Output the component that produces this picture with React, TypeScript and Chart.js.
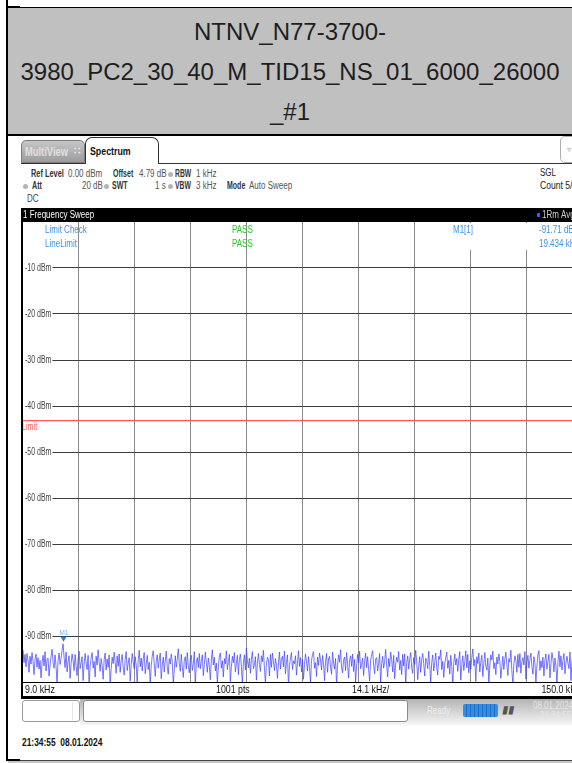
import React, { useEffect, useRef } from "react";
import { Chart, registerables } from "chart.js";

Chart.register(...registerables);

// ---------- data ----------
const TITLE_LINES = ["NTNV_N77-3700-", "3980_PC2_30_40_M_TID15_NS_01_6000_26000", "_#1"];
const START_KHZ = 9.0;
const STOP_KHZ = 150.0;
const SPAN_PER_DIV = "14.1 kHz/";
const SWEEP_POINTS = "1001 pts";
const X_TICKS = [9, 23.1, 37.2, 51.3, 65.4, 79.5, 93.6, 107.7, 121.8, 135.9, 150];
const Y_TICKS = [-10, -20, -30, -40, -50, -60, -70, -80, -90];
const Y_TICK_LABELS = ["-10 dBm", "-20 dBm", "-30 dBm", "-40 dBm", "-50 dBm", "-60 dBm", "-70 dBm", "-80 dBm", "-90 dBm"];
const LIMIT_DBM = -43.2;
const MARKER_KHZ = 19.434;
const MARKER_DBM = -91.71;
const TRACE_DBM = [
  -94.6, -93.1, -95.8, -94.0, -96.7, -93.8, -95.2, -97.9, -94.4, -96.1, -93.6, -95.5, -98.4, -95.0, -93.9, -96.8, -94.7, -97.2, -95.3, -99.1,
  -95.9, -94.2, -96.5, -93.4, -97.6, -95.1, -94.8, -98.7, -96.3, -94.5, -92.9, -95.7, -97.0, -94.1, -96.6, -100.3, -95.4, -93.7, -96.2, -94.9,
  -93.2, -91.7, -94.6, -96.9, -93.5, -97.8, -95.6, -94.3, -99.2, -96.0, -93.9, -95.3, -97.5, -94.0, -96.4, -98.6, -95.0, -93.3, -97.1, -95.8,
  -94.5, -99.7, -96.1, -93.8, -95.9, -97.3, -94.2, -100.6, -96.7, -94.8, -93.6, -97.0, -95.5, -98.9, -94.4, -96.3, -93.0, -95.7, -97.7, -94.9,
  -96.5, -99.4, -95.2, -93.7, -97.4, -95.0, -96.8, -94.1, -100.9, -97.2, -94.6, -96.0, -93.5, -95.8, -98.1, -94.3, -96.6, -93.9, -97.9, -95.4,
  -94.0, -96.9, -98.5, -95.1, -93.4, -97.5, -95.9, -94.7, -99.8, -96.2, -93.8, -95.6, -97.1, -94.5, -96.4, -100.2, -95.3, -93.1, -96.7, -94.8,
  -97.6, -95.0, -93.6, -98.2, -96.1, -94.2, -97.3, -95.7, -100.7, -96.5, -94.4, -93.2, -96.0, -98.8, -95.5, -94.1, -97.0, -95.2, -93.7, -99.3,
  -96.3, -94.6, -97.8, -95.4, -93.3, -96.7, -98.3, -94.9, -96.1, -93.9, -95.6, -100.4, -97.4, -94.3, -96.8, -95.1, -92.8, -95.9, -97.7, -94.0,
  -96.6, -99.0, -95.3, -94.5, -97.2, -93.6, -96.4, -98.0, -95.0, -94.2, -97.5, -96.0, -93.4, -100.8, -95.8, -94.7, -96.9, -93.8, -97.1, -95.5,
  -94.1, -98.6, -96.2, -93.5, -95.7, -97.9, -94.8, -96.5, -99.5, -95.2, -93.0, -96.3, -94.6, -97.6, -95.9, -100.1, -96.8, -94.3, -93.7, -97.0,
  -95.4, -98.9, -94.9, -96.1, -93.2, -97.3, -95.6, -94.0, -99.9, -96.7, -94.4, -95.8, -93.6, -97.8, -96.0, -94.2, -98.4, -95.1, -93.9, -96.6,
  -100.5, -95.7, -94.1, -97.4, -92.6, -95.3, -96.9, -94.8, -98.1, -95.0, -93.4, -97.1, -96.4, -94.5, -99.6, -95.9, -93.8, -96.2, -97.7, -94.3,
  -95.6, -93.1, -97.0, -100.3, -96.1, -94.6, -95.2, -98.7, -94.0, -96.8, -93.7, -95.5, -97.5, -94.9, -96.3, -99.2, -95.8, -93.5, -97.2, -95.0,
  -94.4, -96.7, -93.3, -98.2, -95.7, -94.1, -100.9, -96.5, -94.8, -93.6, -97.3, -95.4, -96.0, -94.3, -98.5, -95.9, -93.2, -96.6, -94.7, -97.8,
  -95.1, -99.4, -96.2, -93.9, -95.6, -97.6, -94.5, -96.9, -100.2, -95.3, -94.0, -93.4, -97.0, -95.8, -98.8, -94.6, -96.4, -93.7, -95.2, -97.4,
  -94.2, -96.0, -99.7, -95.5, -93.8, -97.9, -95.0, -94.4, -96.7, -98.3, -93.5, -95.9, -97.2, -94.9, -100.6, -96.3, -94.1, -95.7, -93.0, -96.8,
  -98.0, -95.2, -94.6, -97.5, -93.6, -96.1, -99.1, -95.4, -94.3, -96.6, -93.9, -97.7, -95.1, -100.0, -96.5, -94.0, -95.8, -93.3, -97.1, -96.2,
  -94.8, -98.6, -95.6, -93.7, -96.9, -94.5, -97.3, -99.8, -95.3, -94.1, -93.2, -96.4, -98.2, -95.0, -94.7, -97.6, -95.9, -93.8, -100.4, -96.0,
  -94.4, -97.0, -95.5, -92.9, -96.3, -98.9, -94.9, -96.7, -93.5, -95.1, -97.8, -94.2, -99.3, -96.1, -94.6, -95.7, -93.4, -97.4, -95.3, -98.4,
  -94.0, -96.5, -93.9, -100.7, -95.8, -94.3, -97.2, -95.0, -93.6, -96.9, -98.1, -94.7, -96.2, -93.1, -95.6, -99.5, -96.6, -94.5, -97.9, -95.2,
  -93.8, -96.0, -98.7, -94.8, -95.4, -97.1, -93.3, -96.4, -100.1, -95.7, -94.1, -97.6, -95.9, -93.7, -96.8, -98.5, -94.4, -95.1, -93.0, -97.3,
  -95.5, -99.0, -96.1, -94.6, -93.5, -97.0, -95.3, -98.3, -94.2, -96.7, -100.8, -95.8, -93.9, -96.3, -94.9, -97.7, -95.0, -93.4, -99.6, -96.2,
  -94.3, -97.5, -95.6, -93.2, -96.9, -94.0, -98.0, -95.4, -97.2, -94.7, -92.8, -96.5, -95.1, -99.9, -94.5, -96.0, -93.7, -97.8, -95.7, -94.2,
  -98.8, -95.9, -93.6, -96.6, -97.4, -94.8, -100.3, -96.4, -94.1, -95.2, -93.3, -97.1, -95.8, -98.4, -94.6, -96.1, -93.9, -95.5, -99.2, -96.7,
  -94.4, -97.3, -95.0, -93.5, -96.2, -98.6, -94.9, -95.7, -93.1, -97.6, -100.5, -96.0, -94.3, -95.3, -97.9, -94.0, -96.8, -93.8, -98.1, -95.6,
  -94.7, -96.3, -93.4, -99.4, -95.9, -94.2, -97.0, -95.1, -93.7, -96.6, -98.3, -94.5, -95.8, -100.0, -96.5, -94.1, -93.2, -97.5, -95.4, -96.9,
  -94.6, -98.7, -95.2, -93.9, -97.2, -95.5, -94.0, -99.1, -96.1, -93.6, -95.0, -97.8, -94.8, -96.4, -100.6, -95.7, -93.3, -96.7, -94.3, -97.4,
  -95.3, -93.8, -98.2, -96.0, -94.4, -95.9, -97.1, -93.5, -99.7, -95.6, -94.2, -96.5, -93.9, -97.7, -95.1, -98.9, -94.7, -96.2, -93.4, -95.8,
  -97.0,
];

const FONT = '"Liberation Sans", Arial, sans-serif';

type TProps = { x: number; y: number; s?: number; w?: number; c?: string; sx?: number; children?: React.ReactNode; style?: React.CSSProperties };
function T({ x, y, s = 10, w = 400, c = "#222", sx = 0.8, children, style }: TProps) {
  return (
    <div
      style={{
        position: "absolute",
        left: x,
        top: y - (s + 2) / 2,
        fontSize: s,
        lineHeight: `${s + 2}px`,
        fontWeight: w,
        color: c,
        fontFamily: FONT,
        whiteSpace: "pre",
        transform: `scaleX(${sx})`,
        transformOrigin: "left center",
        ...style,
      }}
    >
      {children}
    </div>
  );
}

function Dot({ x, y }: { x: number; y: number }) {
  return <div style={{ position: "absolute", left: x - 2, top: y - 2, width: 5, height: 5, borderRadius: "50%", background: "#b4b4b4" }} />;
}

function Box(p: React.CSSProperties) {
  return <div style={{ position: "absolute", ...p }} />;
}

function txt(ctx: CanvasRenderingContext2D, s: string, x: number, y: number, sx = 0.8) {
  ctx.save();
  ctx.translate(x, y);
  ctx.scale(sx, 1);
  ctx.fillText(s, 0, 0);
  ctx.restore();
}

const overlay = {
  id: "rsOverlay",
  afterDatasetsDraw(chart: any) {
    const { ctx, chartArea, scales } = chart;
    const xs = scales.x;
    const ys = scales.y;
    const L = chartArea.left;
    const Tp = chartArea.top;
    const B = chartArea.bottom;
    ctx.save();
    ctx.textBaseline = "middle";
    ctx.textAlign = "left";

    // y labels on white
    ctx.font = `10px ${FONT}`;
    Y_TICKS.forEach((v, i) => {
      const y = ys.getPixelForValue(v);
      const w = ctx.measureText(Y_TICK_LABELS[i]).width * 0.7;
      ctx.fillStyle = "#fff";
      ctx.fillRect(L + 1, y - 4, w + 3, 9);
      ctx.fillStyle = "#444";
      txt(ctx, Y_TICK_LABELS[i], L + 3, y + 0.5, 0.7);
    });

    // limit label
    const yl = ys.getPixelForValue(LIMIT_DBM);
    ctx.fillStyle = "#ff5a5a";
    ctx.font = `10px ${FONT}`;
    txt(ctx, "Limit", L, yl + 7, 0.72);

    // limit check texts
    ctx.font = `10px ${FONT}`;
    ctx.fillStyle = "#3d92e6";
    txt(ctx, "Limit Check", L + 23, Tp + 8);
    txt(ctx, "LineLimit", L + 23, Tp + 22);
    ctx.fillStyle = "#27c927";
    txt(ctx, "PASS", L + 210, Tp + 8);
    txt(ctx, "PASS", L + 210, Tp + 22);

    // marker table box
    ctx.fillStyle = "#fff";
    ctx.fillRect(440, Tp + 1, 200, 27);
    ctx.fillStyle = "#3d92e6";
    txt(ctx, "M1[1]", 453, Tp + 8);
    txt(ctx, `${MARKER_DBM.toFixed(2)} dBm`, 539, Tp + 8);
    txt(ctx, `${MARKER_KHZ.toFixed(3)} kHz`, 539, Tp + 22);

    // marker
    const mx = xs.getPixelForValue(MARKER_KHZ);
    const my = ys.getPixelForValue(MARKER_DBM);
    ctx.fillStyle = "#2d7fd6";
    ctx.beginPath();
    ctx.moveTo(mx - 3, my - 7);
    ctx.lineTo(mx + 3, my - 7);
    ctx.lineTo(mx, my - 2);
    ctx.closePath();
    ctx.fill();
    ctx.fillStyle = "#6bb8f0";
    ctx.font = `8px ${FONT}`;
    txt(ctx, "M1", mx - 4, my - 11, 0.8);

    // frame
    ctx.fillStyle = "#000";
    ctx.fillRect(L - 1, 0, 2, B + 17);
    ctx.fillRect(L - 1, B, 700, 1);
    ctx.fillRect(L - 1, B + 14, 700, 3);
    ctx.fillRect(L - 1, 0, 700, Tp);
    // header bar text
    ctx.font = `10px ${FONT}`;
    ctx.fillStyle = "#fff";
    txt(ctx, "1 Frequency Sweep", L + 1, Tp / 2 + 0.5);
    ctx.fillStyle = "#2a5cff";
    ctx.fillRect(537, Tp / 2 - 2, 3, 4);
    ctx.fillStyle = "#cfcfcf";
    txt(ctx, "1Rm Avg", 542, Tp / 2 + 0.5);

    // bottom strip
    ctx.fillStyle = "#111";
    ctx.font = `11px ${FONT}`;
    txt(ctx, `${START_KHZ.toFixed(1)} kHz`, L + 3, B + 8);
    txt(ctx, SWEEP_POINTS, 216, B + 8);
    txt(ctx, SPAN_PER_DIV, 352, B + 8);
    ctx.textAlign = "right";
    txt(ctx, `${STOP_KHZ.toFixed(1)} kHz`, chartArea.right - 2, B + 8);
    ctx.restore();
  },
};

export default function App() {
  const ref = useRef<HTMLCanvasElement>(null);

  useEffect(() => {
    const canvas = ref.current!;
    const n = TRACE_DBM.length;
    const trace = TRACE_DBM.map((v, i) => ({ x: START_KHZ + (i * (STOP_KHZ - START_KHZ)) / (n - 1), y: v }));
    const chart = new Chart(canvas, {
      type: "line",
      data: {
        datasets: [
          {
            data: [
              { x: START_KHZ, y: LIMIT_DBM },
              { x: STOP_KHZ, y: LIMIT_DBM },
            ],
            borderColor: "#ff3030",
            borderWidth: 1,
            pointRadius: 0,
          },
          {
            data: trace,
            borderColor: "rgba(66,66,255,0.72)",
            borderWidth: 1,
            pointRadius: 0,
            tension: 0,
          },
        ],
      },
      options: {
        animation: false,
        responsive: false,
        devicePixelRatio: 1,
        events: [],
        layout: { padding: { left: 22, right: 17, top: 14, bottom: 18 } },
        plugins: { legend: { display: false }, tooltip: { enabled: false }, title: { display: false } },
        scales: {
          x: {
            type: "linear",
            min: START_KHZ,
            max: STOP_KHZ,
            afterBuildTicks: (s: any) => {
              s.ticks = X_TICKS.map((v) => ({ value: v }));
            },
            ticks: { display: false },
            grid: {
              drawTicks: false,
              lineWidth: 1,
              color: (c: any) => (c.tick && (c.tick.value === START_KHZ || c.tick.value === STOP_KHZ) ? "rgba(0,0,0,0)" : "#8a8a8a"),
            },
            border: { display: false },
          },
          y: {
            type: "linear",
            min: -100,
            max: 0,
            afterBuildTicks: (s: any) => {
              s.ticks = [0, ...Y_TICKS, -100].map((v) => ({ value: v }));
            },
            ticks: { display: false },
            grid: {
              drawTicks: false,
              lineWidth: 1,
              color: (c: any) => (c.tick && (c.tick.value === 0 || c.tick.value === -100) ? "rgba(0,0,0,0)" : "#3c3c3c"),
            },
            border: { display: false },
          },
        },
      },
      plugins: [overlay],
    } as any);
    return () => chart.destroy();
  }, []);

  return (
    <div style={{ position: "fixed", left: 0, top: 0, width: 572, height: 763, overflow: "hidden", background: "#fff" }}>
      {/* table borders */}
      <Box left={6} top={0} width={2} height={761} background="#000" />
      <Box left={6} top={6} width={14} height={2} background="#000" />
      {/* title cell */}
      <div
        style={{
          position: "absolute",
          left: 8,
          top: 7,
          width: 600,
          height: 126,
          background: "#c0c0c0",
          borderTop: "1px solid #000",
          borderBottom: "2px solid #000",
        }}
      />
      <div style={{ position: "absolute", left: 8, top: 12, width: 564, textAlign: "center", fontFamily: FONT, fontSize: 24, lineHeight: "40px", color: "#1e1e1e" }}>
        {TITLE_LINES.map((l) => (
          <div key={l}>{l}</div>
        ))}
      </div>

      {/* tabs */}
      <div
        style={{
          position: "absolute",
          left: 21,
          top: 140,
          width: 64,
          height: 23,
          boxSizing: "border-box",
          background: "linear-gradient(#c6c6c6, #9c9c9c)",
          border: "1px solid #7a7a7a",
          borderRadius: "5px 5px 0 0",
        }}
      />
      <T x={25} y={152} s={12} w={700} c="#e0e0e0" sx={0.78}>MultiView</T>
      <T x={74} y={151} s={10} w={700} c="#eeeeee" sx={1}>∷</T>
      <div
        style={{
          position: "absolute",
          left: 85,
          top: 137,
          width: 74,
          height: 27,
          boxSizing: "border-box",
          background: "#fff",
          border: "1px solid #333",
          borderBottom: "none",
          borderRadius: "7px 7px 0 0",
        }}
      />
      <T x={90} y={151} s={11} w={700} c="#111">Spectrum</T>
      <div
        style={{
          position: "absolute",
          left: 560,
          top: 136,
          width: 30,
          height: 27,
          boxSizing: "border-box",
          border: "1px solid #b0b0b0",
          borderRadius: 5,
        }}
      />
      <T x={567} y={150} s={8} c="#999" sx={1}>▿</T>
      <Box left={21} top={163} width={64} height={1} background="#333" />
      <Box left={159} top={163} width={420} height={1} background="#333" />

      {/* info rows */}
      <T x={31} y={174} w={700} c="#333" sx={0.74}>Ref Level</T>
      <T x={68} y={174} c="#555">0.00 dBm</T>
      <T x={113} y={174} w={700} c="#333" sx={0.7}>Offset</T>
      <T x={139} y={174} c="#555">4.79 dB</T>
      <Dot x={170} y={174} />
      <T x={175} y={174} w={700} c="#333" sx={0.68}>RBW</T>
      <T x={196} y={174} c="#555">1 kHz</T>
      <T x={540} y={173} c="#222">SGL</T>

      <Dot x={25} y={186} />
      <T x={32} y={186} w={700} c="#333" sx={0.72}>Att</T>
      <T x={82} y={186} c="#555">20 dB</T>
      <Dot x={106} y={186} />
      <T x={112} y={186} w={700} c="#333" sx={0.7}>SWT</T>
      <T x={155} y={186} c="#555">1 s</T>
      <Dot x={170} y={186} />
      <T x={175} y={186} w={700} c="#333" sx={0.68}>VBW</T>
      <T x={196} y={186} c="#555">3 kHz</T>
      <T x={227} y={186} w={700} c="#333" sx={0.7}>Mode</T>
      <T x={249} y={186} c="#555">Auto Sweep</T>
      <T x={540} y={186} c="#222" sx={0.86}>Count 5/10</T>

      <T x={27} y={199} c="#444">DC</T>

      {/* chart */}
      <canvas ref={ref} width={600} height={492} style={{ position: "absolute", left: 0, top: 208, width: 600, height: 492 }} />

      {/* status bar */}
      <div style={{ position: "absolute", left: 80, top: 699, width: 492, height: 26, background: "linear-gradient(#b4b4b4, #f6f6f6)" }} />
      <div style={{ position: "absolute", left: 22, top: 700, width: 58, height: 22, boxSizing: "border-box", background: "#fff", border: "1px solid #9a9a9a", borderRadius: 3 }} />
      <Box left={72} top={702} width={1} height={18} background="#e4e4e4" />
      <div style={{ position: "absolute", left: 83, top: 700, width: 325, height: 22, boxSizing: "border-box", background: "#fff", border: "1px solid #8a8a8a", borderRadius: 3 }} />
      <T x={427} y={711} c="#ededed">Ready</T>
      <div
        style={{
          position: "absolute",
          left: 463,
          top: 704,
          width: 35,
          height: 13,
          borderRadius: 2,
          background: "repeating-linear-gradient(to right, #2f8fe8 0px, #2f8fe8 3px, #1f6cc2 3px, #1f6cc2 4px)",
        }}
      />
      <T x={503} y={710} s={10} w={700} c="#555" sx={1} style={{ transform: "skewX(-12deg)" }}>▮▮</T>
      <T x={533} y={706} c="#e6e6e6">08.01.2024</T>
      <T x={540} y={716} c="#e6e6e6">21:34:55</T>

      {/* timestamp */}
      <T x={22} y={743} s={10} w={700} c="#111" sx={0.84}>{"21:34:55  08.01.2024"}</T>

      {/* bottom border */}
      <Box left={6} top={759} width={14} height={2} background="#000" />
      <Box left={20} top={760} width={560} height={1} background="#444" />
      <Box left={8} top={761} width={570} height={2} background="#c8c8c8" />
    </div>
  );
}
